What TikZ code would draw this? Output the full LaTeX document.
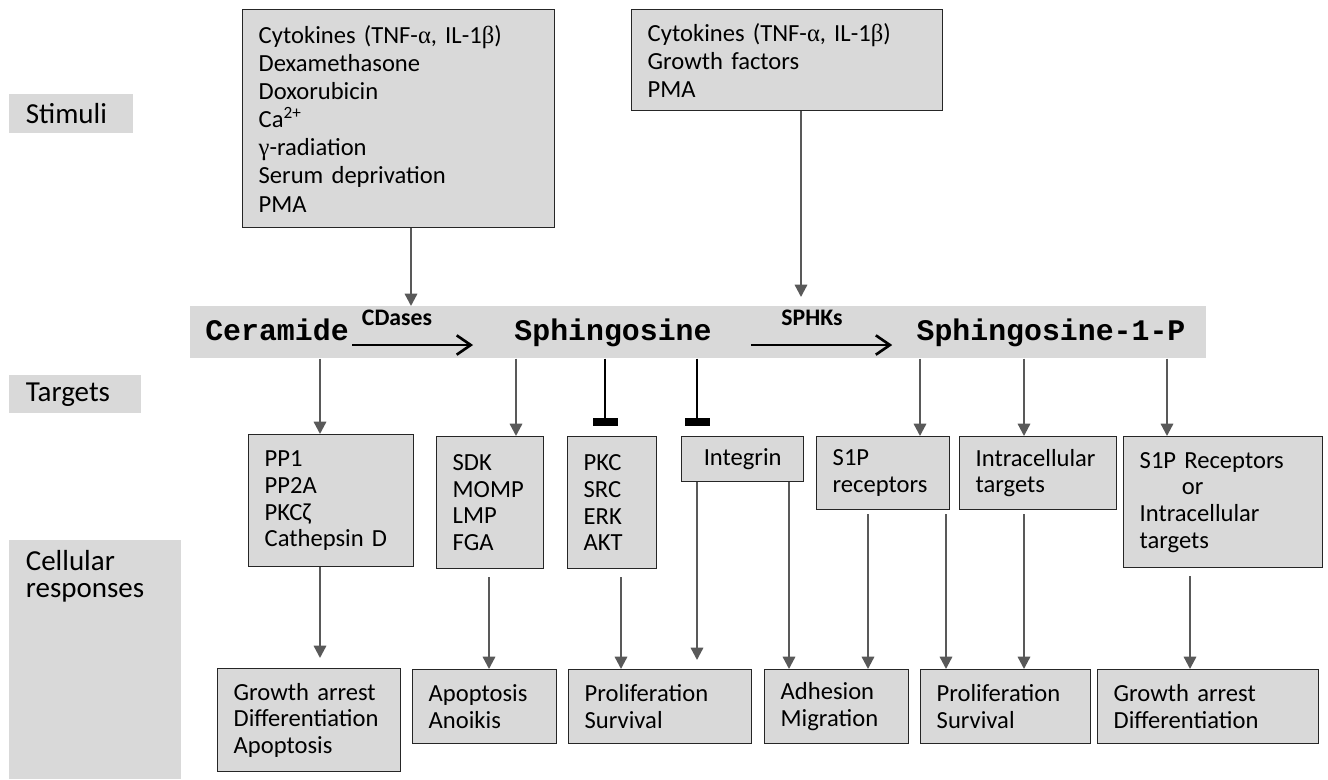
\documentclass[tikz,border=0pt]{standalone}
\usepackage{fontspec}
\setmainfont{Carlito}
\newfontfamily\monofont{Liberation Mono}
\newfontfamily\greekfont{Liberation Serif}
\usetikzlibrary{arrows.meta,calc}
\definecolor{boxgray}{RGB}{217,217,217}
\definecolor{arrowgray}{RGB}{89,89,89}

\begin{document}
\begin{tikzpicture}[
    x=0.02cm, y=-0.02cm,
    stage/.style={fill=boxgray, anchor=north west, align=left, inner xsep=0.33cm, inner ysep=0pt, font=\fontsize{16.5}{15.5}\selectfont},
    stimulus/.style={draw=black!85, line width=0.8pt, fill=boxgray, anchor=north west, align=left, inner xsep=0.32cm, inner ysep=0pt, font=\fontsize{14}{16}\selectfont},
    target/.style={stimulus, font=\fontsize{14}{15.2}\selectfont},
    boxsize/.style 2 args={text width=#1*0.02cm-0.64cm, minimum height=#2*0.02cm},
    lipid/.style={anchor=base, font=\monofont\bfseries\fontsize{17}{18}\selectfont, inner sep=0pt},
    enzyme/.style={anchor=base, font=\bfseries\fontsize{13.5}{14}\selectfont, inner sep=0pt},
    feed/.style={draw=arrowgray, line width=1.3pt, -{Triangle[length=7pt,width=7pt]}},
    convert/.style={draw=black, line width=1.5pt, -{Straight Barb[length=8pt,width=11pt]}},
    block/.style={draw=black, line width=1.2pt, -{Bar[width=0.5cm,line width=0.16cm]}}
]
\useasboundingbox (0,0) rectangle (1328,779);

% Stage labels
\node[stage, boxsize={123}{39}] (lstim) at (9,94) {Stimuli};
\node[stage, boxsize={131}{38}] (ltarg) at (9,375) {Targets};
\node[stage, text width=172*0.02cm-0.66cm, text height=0.6cm, text depth=4.18cm] (lresp) at (9,540) {Cellular\\responses};

% Stimuli
\node[stimulus, boxsize={312}{218}] (stim1) at (242,9) {Cytokines (TNF-{\greekfont α}, IL-1{\greekfont β})\\Dexamethasone\\Doxorubicin\\Ca\textsuperscript{2+}\\{\greekfont γ}-radiation\\Serum deprivation\\PMA};
\node[stimulus, boxsize={311}{101}] (stim2) at (631,9) {Cytokines (TNF-{\greekfont α}, IL-1{\greekfont β})\\Growth factors\\PMA};

% Sphingolipid pathway
\node[fill=boxgray, anchor=north west, minimum width=1016*0.02cm, minimum height=52*0.02cm, inner sep=0pt] (bar) at (190,306) {};
\node[lipid] (cer) at (277,340) {Ceramide};
\node[lipid] (sph) at (613,340) {Sphingosine};
\node[lipid] (s1p) at (1051,340) {Sphingosine-1-P};
\node[enzyme] (cdase) at (397,325) {CDases};
\node[enzyme] (sphk) at (812,325) {SPHKs};
\draw[convert] ($(cer.base east)+(3,5)$) -- ($(sph.base west)+(-41,5)$);
\draw[convert] ($(sph.base east)+(39,5)$) -- ($(s1p.base west)+(-24,5)$);

% Targets
\node[target, boxsize={165}{132}] (pp1) at (248,434) {PP1\\PP2A\\PKCζ\\Cathepsin D};
\node[target, boxsize={107}{132}] (sdk) at (436,436) {SDK\\MOMP\\LMP\\FGA};
\node[target, boxsize={89}{132}] (pkc) at (567,436) {PKC\\SRC\\ERK\\AKT};
\node[target, boxsize={122}{45}, align=center] (intg) at (681,436) {Integrin};
\node[target, boxsize={133}{73}] (s1pr) at (816,436) {S1P\\receptors};
\node[target, boxsize={157}{73}] (intra) at (959,436) {Intracellular\\targets};
\node[target, boxsize={199}{131}] (s1pint) at (1123,436) {S1P Receptors\\\hspace*{24pt}or\\Intracellular\\targets};

% Cellular responses
\node[target, boxsize={183}{103}] (gr1) at (217,668) {Growth arrest\\Differentiation\\Apoptosis};
\node[target, boxsize={144}{74}] (apo) at (412,669) {Apoptosis\\Anoikis};
\node[target, boxsize={183}{74}] (prol1) at (568,669) {Proliferation\\Survival};
\node[target, boxsize={144}{74}] (adh) at (764,669) {Adhesion\\Migration};
\node[target, boxsize={170}{74}] (prol2) at (920,669) {Proliferation\\Survival};
\node[target, boxsize={221}{74}] (gr2) at (1097,669) {Growth arrest\\Differentiation};

% Connector columns
\coordinate (xa) at (411,0);
\coordinate (xb) at (801,0);
\coordinate (x1) at (320,0);
\coordinate (x2) at (516,0);
\coordinate (x3) at (605,0);
\coordinate (x4) at (697,0);
\coordinate (x5) at (920,0);
\coordinate (x6) at (1024,0);
\coordinate (x7) at (1167,0);
\coordinate (x9) at (489,0);
\coordinate (x10) at (621,0);
\coordinate (x12) at (789,0);
\coordinate (x13) at (868,0);
\coordinate (x14) at (946,0);
\coordinate (x16) at (1190,0);

% Stimuli to pathway
\draw[feed] (stim1.south -| xa) -- (bar.north -| xa);
\draw[feed, shorten >=0.18cm] (stim2.south -| xb) -- (bar.north -| xb);

% Pathway to targets
\draw[feed] (bar.south -| x1) -- (pp1.north -| x1);
\draw[feed] (bar.south -| x2) -- (sdk.north -| x2);
\draw[block, shorten >=0.2cm] (bar.south -| x3) -- (pkc.north -| x3);
\draw[block, shorten >=0.2cm] (bar.south -| x4) -- (intg.north -| x4);
\draw[feed] (bar.south -| x5) -- (s1pr.north -| x5);
\draw[feed] (bar.south -| x6) -- (intra.north -| x6);
\draw[feed] (bar.south -| x7) -- (s1pint.north -| x7);

% Targets to responses
\draw[feed, shorten >=0.2cm] (pp1.south -| x1) -- (gr1.north -| x1);
\draw[feed, shorten <=0.16cm] (sdk.south -| x9) -- (apo.north -| x9);
\draw[feed, shorten <=0.16cm] (pkc.south -| x10) -- (prol1.north -| x10);
\draw[feed, shorten >=0.18cm] (intg.south -| x4) -- (prol1.north -| x4);
\draw[feed] (intg.south -| x12) -- (adh.north -| x12);
\draw[feed, shorten <=0.08cm] (s1pr.south -| x13) -- (adh.north -| x13);
\draw[feed, shorten <=0.08cm] (s1pr.south -| x14) -- (prol2.north -| x14);
\draw[feed, shorten <=0.08cm] (intra.south -| x6) -- (prol2.north -| x6);
\draw[feed, shorten <=0.16cm] (s1pint.south -| x16) -- (gr2.north -| x16);

\end{tikzpicture}
\end{document}
